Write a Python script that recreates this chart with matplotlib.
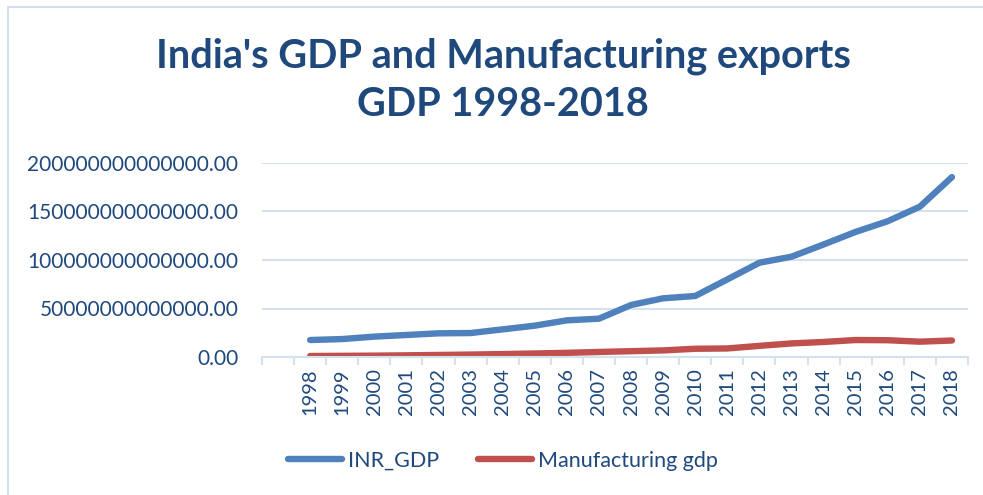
import matplotlib
matplotlib.use('Agg')
import matplotlib.pyplot as plt
from matplotlib.ticker import FixedLocator, FuncFormatter
from matplotlib.patches import Rectangle

# data (INR)
years = [str(y) for y in range(1998, 2019)]
inr_gdp = [17.5e12, 18.5e12, 21.0e12, 22.7e12, 24.4e12, 24.7e12, 28.5e12,
           32.3e12, 37.8e12, 39.5e12, 53.6e12, 60.5e12, 62.9e12, 80.0e12,
           97.2e12, 103.4e12, 116.0e12, 129.0e12, 140.0e12, 155.0e12, 185.5e12]
manuf_gdp = [1.0e12, 1.2e12, 1.4e12, 1.7e12, 2.1e12, 2.5e12, 3.0e12,
             3.6e12, 4.3e12, 5.2e12, 6.0e12, 6.8e12, 8.5e12, 8.8e12,
             11.5e12, 14.0e12, 15.5e12, 17.5e12, 17.3e12, 15.8e12, 17.0e12]
y_ticks = [0, 50e12, 100e12, 150e12, 200e12]

plt.rcParams['font.family'] = ['Lato', 'DejaVu Sans']
txt = '#1F497D'
grid_c = '#D6E1F0'

W, H = 983, 495
fig = plt.figure(figsize=(W / 100, H / 100), dpi=100)

# chart border (only left/top visible in the crop)
fig.patches.append(Rectangle((8 / W, -0.1), 1.2, 1 - 7 / H + 0.1, transform=fig.transFigure,
                             fill=False, edgecolor='#D3DFEF', linewidth=1.5))

ax = fig.add_axes([262 / W, 1 - 357 / H, (968 - 262) / W, (357 - 163) / H])

x = list(range(len(years)))
ax.plot(x, inr_gdp, color='#4F81BD', lw=4.6, solid_capstyle='round', label='INR_GDP')
ax.plot(x, manuf_gdp, color='#C0504D', lw=4.6, solid_capstyle='round', label='Manufacturing gdp')

ax.set_xlim(-1.5, len(years) - 0.5)
ax.set_ylim(0, 200e12)

ax.set_yticks(y_ticks)
ax.yaxis.set_major_formatter(FuncFormatter(lambda v, p: f'{v:.2f}'))
ax.set_xticks(x)
ax.set_xticklabels(years, rotation=90)
ax.xaxis.set_minor_locator(FixedLocator([i - 0.5 for i in range(-1, len(years) + 1)]))

ax.grid(axis='y', color=grid_c, lw=1.5)
ax.set_axisbelow(True)
for s in ['top', 'right', 'left']:
    ax.spines[s].set_visible(False)
ax.spines['bottom'].set_color(grid_c)
ax.spines['bottom'].set_linewidth(1.5)

ax.tick_params(axis='y', length=0, pad=17, labelsize=15, labelcolor=txt)
ax.tick_params(axis='x', which='major', length=0, pad=8, labelsize=14.5, labelcolor=txt)
ax.tick_params(axis='x', which='minor', length=5.5, width=1.5, color=grid_c)

fig.text(0.512, 1 - 80 / H, "India's GDP and Manufacturing exports\nGDP 1998-2018",
         ha='center', va='center', fontsize=28.5, fontweight='bold', color=txt, linespacing=1.35)

leg = fig.legend(loc='center left', bbox_to_anchor=(288 / W, 1 - 461 / H), ncol=2,
                 frameon=False, fontsize=15.5, handlelength=2.5, handletextpad=0.3,
                 columnspacing=1.8, borderpad=0, borderaxespad=0)
for t in leg.get_texts():
    t.set_color(txt)

fig.savefig('out.png', dpi=100)
